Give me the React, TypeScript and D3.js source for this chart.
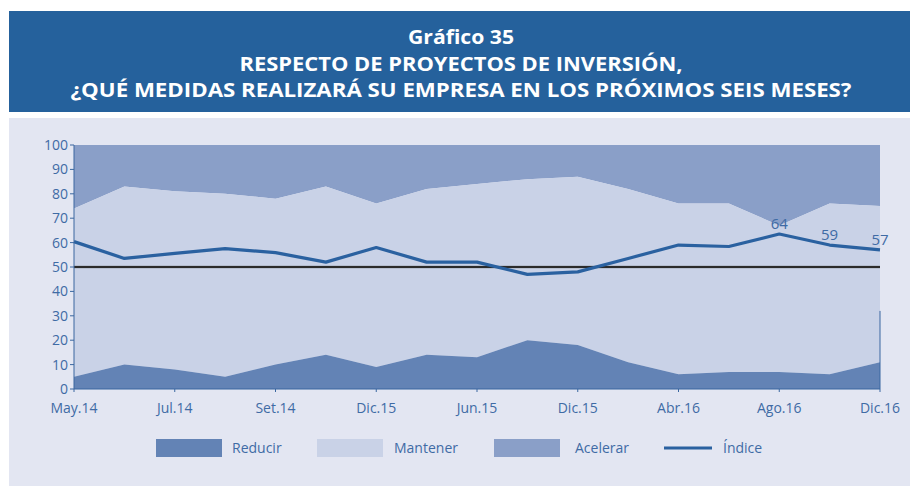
import React from "react";
import * as d3 from "d3";

const categories = ["May.14","Jun.14","Jul.14","Ago.14","Set.14","Oct.14","Dic.15","Feb.15","Jun.15","Ago.15","Dic.15b","Feb.16","Abr.16","Jun.16","Ago.16","Oct.16","Dic.16"];
const tickLabels = ["May.14","Jul.14","Set.14","Dic.15","Jun.15","Dic.15","Abr.16","Ago.16","Dic.16"];
const tickIndices = [0, 2, 4, 6, 8, 10, 12, 14, 16];
const reducir = [5, 10, 8, 5, 10, 14, 9, 14, 13, 20, 18, 11, 6, 7, 7, 6, 11];
const reducirMasMantener = [74, 83, 81, 80, 78, 83, 76, 82, 84, 86, 87, 82, 76, 76, 67, 76, 75];
const indice = [60.4, 53.5, 55.6, 57.5, 55.9, 52, 58, 52, 52, 47, 48, 53.5, 59, 58.4, 63.5, 59, 57];
const labelledIdx = [14, 15, 16];
const yTicks = [0, 10, 20, 30, 40, 50, 60, 70, 80, 90, 100];
const legendItems = ["Reducir", "Mantener", "Acelerar", "Índice"];
const titleLines = ["Gráfico 35", "RESPECTO DE PROYECTOS DE INVERSIÓN,", "¿QUÉ MEDIDAS REALIZARÁ SU EMPRESA EN LOS PRÓXIMOS SEIS MESES?"];

const C = {
  banner: "#25619c",
  panel: "#e3e6f2",
  reducir: "#6383b5",
  mantener: "#c9d2e7",
  acelerar: "#8a9fc8",
  indice: "#2a61a0",
  text: "#3f6ba5",
  axis: "#3a67a0",
};

export default function App() {
  const W = 910, H = 486;
  const left = 74, right = 880, top = 145, bottom = 389;
  const x = d3.scaleLinear().domain([0, categories.length - 1]).range([left, right]);
  const y = d3.scaleLinear().domain([0, 100]).range([bottom, top]);
  const idx = categories.map((_, i) => i);

  const areaRed = d3.area<number>().x((i) => x(i)).y0(y(0)).y1((i) => y(reducir[i]))(idx) || "";
  const areaMan = d3.area<number>().x((i) => x(i)).y0((i) => y(reducir[i])).y1((i) => y(reducirMasMantener[i]))(idx) || "";
  const areaAce = d3.area<number>().x((i) => x(i)).y0((i) => y(reducirMasMantener[i])).y1(y(100))(idx) || "";
  const line = d3.line<number>().x((i) => x(i)).y((i) => y(indice[i]))(idx) || "";

  const font = "'Open Sans', 'Noto Sans', sans-serif";
  const titleWidths = [106, 443, 781];
  const titleY = [44, 71, 97];

  const legendSwatches = [
    { x: 156, color: C.reducir, tx: 232 },
    { x: 317, color: C.mantener, tx: 394 },
    { x: 494, color: C.acelerar, tx: 575 },
  ];

  return (
    <div style={{ position: "absolute", left: 0, top: 0 }}>
      <svg width={W} height={H} style={{ display: "block", fontFamily: font }}>
        <rect x={0} y={0} width={W} height={H} fill="#ffffff" />
        <rect x={9} y={11} width={W - 9} height={101} fill={C.banner} />
        {titleLines.map((t, i) => (
          <text key={i} x={461} y={titleY[i]} textAnchor="middle" fill="#ffffff" fontSize={19.5} fontWeight={700}
            textLength={titleWidths[i]} lengthAdjust="spacingAndGlyphs">{t}</text>
        ))}
        <rect x={9} y={118} width={W - 9} height={H - 118} fill={C.panel} />

        <path d={areaAce} fill={C.acelerar} />
        <path d={areaMan} fill={C.mantener} />
        <path d={areaRed} fill={C.reducir} />

        <line x1={left} x2={right} y1={y(50)} y2={y(50)} stroke="#8a8f99" strokeWidth={3.2} opacity={0.6} />
        <line x1={left} x2={right} y1={y(50)} y2={y(50)} stroke="#2b2b2b" strokeWidth={1.8} />

        <path d={line} fill="none" stroke={C.indice} strokeWidth={3.2} strokeLinejoin="round" />

        {labelledIdx.map((i) => (
          <text key={i} x={x(i)} y={y(indice[i]) - 5} textAnchor="middle" fill={C.text} fontSize={15}>
            {Math.round(indice[i])}
          </text>
        ))}

        {/* axes */}
        <line x1={left} x2={left} y1={top} y2={bottom} stroke={C.axis} strokeWidth={1} />
        <line x1={left} x2={right} y1={bottom} y2={bottom} stroke={C.axis} strokeWidth={1.2} />
        <line x1={right} x2={right} y1={y(32)} y2={bottom} stroke={C.axis} strokeWidth={1} />
        {yTicks.map((v) => (
          <g key={v}>
            <line x1={left - 4} x2={left} y1={y(v)} y2={y(v)} stroke={C.axis} strokeWidth={1} />
            <text x={left - 6} y={y(v)} dy="0.35em" textAnchor="end" fill={C.text} fontSize={14}>{v}</text>
          </g>
        ))}
        {tickIndices.map((ti, k) => (
          <g key={k}>
            <line x1={x(ti)} x2={x(ti)} y1={bottom} y2={bottom + 3} stroke={C.axis} strokeWidth={1} />
            <text x={x(ti)} y={413} textAnchor="middle" fill={C.text} fontSize={14}>{tickLabels[k]}</text>
          </g>
        ))}

        {/* legend */}
        {legendSwatches.map((s, k) => (
          <g key={k}>
            <rect x={s.x} y={439} width={66} height={18} fill={s.color} />
            <text x={s.tx} y={453} fill={C.text} fontSize={14}>{legendItems[k]}</text>
          </g>
        ))}
        <line x1={664} x2={712} y1={448} y2={448} stroke={C.indice} strokeWidth={3} />
        <text x={723} y={453} fill={C.text} fontSize={14}>{legendItems[3]}</text>
      </svg>
    </div>
  );
}
